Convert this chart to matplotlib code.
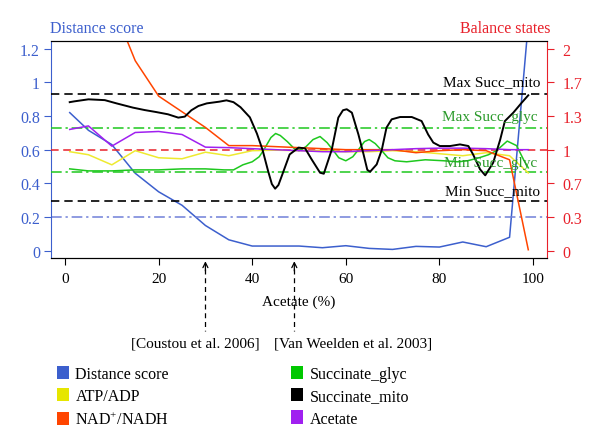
import matplotlib
matplotlib.use("Agg")
import matplotlib.pyplot as plt
from matplotlib.patches import Patch

plt.rcParams['font.family'] = ['Liberation Serif', 'DejaVu Serif']
plt.rcParams['font.size'] = 11
plt.rcParams['mathtext.fontset'] = 'custom'
plt.rcParams['mathtext.rm'] = 'Liberation Serif'

# acetate percentage grid of the coarse series
acetate_pct = [1, 5, 10, 15, 20, 25, 30, 35, 40, 45, 50, 55, 60, 65, 70, 75, 80, 85, 90, 95, 99]
distance_score = [0.82, 0.715, 0.63, 0.46, 0.35, 0.27, 0.15, 0.065, 0.028, 0.028, 0.028,
                  0.018, 0.03, 0.014, 0.008, 0.026, 0.022, 0.052, 0.024, 0.08, 1.35]
atp_adp = [0.98, 0.95, 0.85, 0.99, 0.92, 0.91, 0.975, 0.94, 0.99, 0.995, 0.99,
           0.99, 0.98, 0.98, 0.99, 0.98, 0.96, 0.94, 0.97, 0.94, 0.77]
nad_nadh = [3.6, 3.0, 2.45, 1.88, 1.53, 1.375, 1.22, 1.04, 1.04, 1.03, 1.02,
            1.01, 1.0, 1.0, 1.0, 0.97, 0.99, 1.0, 0.99, 0.90, 0.01]
acetate = [1.2, 1.235, 1.035, 1.17, 1.18, 1.15, 1.025, 1.02, 1.01, 1.0, 0.99,
           0.98, 0.98, 0.99, 1.0, 1.01, 1.015, 1.015, 1.01, 1.0, 1.0]

# succinate curves are smooth, so they were read at more points
succ_glyc_x = [1, 5, 10, 15, 20, 25, 30, 34, 36, 38, 40, 41.5, 42.5, 44, 45, 46, 47.5, 49,
               50, 51.5, 53, 54.5, 56, 57.2, 58.5, 60, 61.5, 62.7, 64, 65, 66.3, 67.7, 69,
               70.5, 73, 77, 81, 84, 86, 88.5, 90.5, 92.2, 94.5, 96.5, 98, 99]
succ_glyc = [0.81, 0.79, 0.79, 0.80, 0.80, 0.81, 0.81, 0.80, 0.80, 0.85, 0.88, 0.93, 1.0, 1.12,
             1.16, 1.14, 1.08, 1.01, 0.99, 1.03, 1.10, 1.13, 1.07, 1.0, 0.92, 0.89, 0.93,
             1.0, 1.08, 1.10, 1.06, 0.99, 0.92, 0.89, 0.88, 0.90, 0.89, 0.88, 0.89, 0.92,
             0.95, 0.99, 1.085, 1.04, 0.90, 0.82]
succ_mito_x = [1, 2, 5, 8.5, 11, 14.5, 17, 19.5, 22, 24.2, 25.6, 27, 28.5, 30.3, 33, 34.5,
               36, 37.5, 39.5, 41, 42.2, 43.4, 44.2, 44.9, 45.6, 46.4, 48, 49.9, 51.3, 52.7,
               54.5, 55.3, 57, 58.4, 59.4, 60.2, 61.3, 62.7, 63.8, 64.6, 65.2, 66.6, 67.7,
               68.7, 69.8, 71.6, 74.1, 76.2, 77.6, 78.7, 80.1, 82.3, 84.4, 86.2, 87.2, 88.7,
               89.8, 91.5, 93, 94, 95.8, 97.6, 99]
succ_mito = [1.47, 1.478, 1.498, 1.49, 1.458, 1.416, 1.392, 1.372, 1.35, 1.317, 1.327, 1.39,
             1.432, 1.458, 1.475, 1.488, 1.47, 1.42, 1.32, 1.16, 1.0, 0.788, 0.66, 0.614,
             0.65, 0.75, 0.953, 1.02, 1.013, 0.904, 0.772, 0.762, 1.0, 1.317, 1.39, 1.40,
             1.366, 1.15, 0.953, 0.80, 0.782, 0.854, 1.0, 1.218, 1.30, 1.323, 1.323, 1.283,
             1.15, 1.07, 1.036, 1.036, 1.052, 1.036, 0.953, 0.805, 0.746, 0.871, 1.10,
             1.283, 1.366, 1.465, 1.538]

# thresholds
max_succ_mito = 1.55
max_succ_glyc = 1.21
balance_level = 1.0
min_succ_glyc = 0.78
min_succ_mito = 0.49
distance_threshold = 0.2

right_ticks = [0, 1/3, 2/3, 1, 4/3, 5/3, 2]
right_ticklabels = ["0", "0.3", "0.7", "1", "1.3", "1.7", "2"]
citations = ["[Coustou et al. 2006]", "[Van Weelden et al. 2003]"]
citation_x = [30, 49]

BLUE = '#3c5fcd'
RED = '#e8202a'
GREEN = '#1ec81e'
YELLOW = '#eeea30'
ORANGE = '#ff4500'
PURPLE = '#a020f0'

fig = plt.figure(figsize=(6, 4.31), dpi=100)
ax = fig.add_axes([51/600, 1 - 259/431, (547 - 51)/600, (259 - 42)/431])
ax2 = ax.twinx()

ax.plot(acetate_pct, distance_score, color=BLUE, lw=1.1)
ax.axhline(distance_threshold, color='#7080d8', lw=1.1, dashes=(7, 2.5, 1.5, 2.5))

ax2.axhline(max_succ_mito, color='black', lw=1.2, dashes=(5, 3))
ax2.axhline(min_succ_mito, color='black', lw=1.2, dashes=(5, 3))
ax2.axhline(max_succ_glyc, color=GREEN, lw=1.1, dashes=(7, 2.5, 1.5, 2.5))
ax2.axhline(min_succ_glyc, color=GREEN, lw=1.1, dashes=(7, 2.5, 1.5, 2.5))
ax2.axhline(balance_level, color=RED, lw=1.1, dashes=(5, 3))

ax2.plot(acetate_pct, atp_adp, color=YELLOW, lw=1.1)
ax2.plot(succ_glyc_x, succ_glyc, color=GREEN, lw=1.1)
ax2.plot(acetate_pct, nad_nadh, color=ORANGE, lw=1.1)
ax2.plot(acetate_pct, acetate, color=PURPLE, lw=1.1)
ax2.plot(succ_mito_x, succ_mito, color='black', lw=1.4)

ax2.text(101.5, 1.675, "Max Succ_mito", ha='right', va='center', color='black')
ax2.text(101.0, 1.33, "Max Succ_glyc", ha='right', va='center', color='#2a9a2a')
ax2.text(101.0, 0.87, "Min Succ_glyc", ha='right', va='center', color='#2a9a2a')
ax2.text(101.5, 0.59, "Min Succ_mito", ha='right', va='center', color='black')

ax.set_xlim(-3, 103)
ax.set_ylim(-0.043, 1.245)
ax2.set_ylim(-0.043 * 5/3, 1.245 * 5/3)
ax.set_xticks([0, 20, 40, 60, 80, 100])
ax.set_yticks([0, 0.2, 0.4, 0.6, 0.8, 1.0, 1.2])
ax.set_yticklabels(["0", "0.2", "0.4", "0.6", "0.8", "1", "1.2"])
ax2.set_yticks(right_ticks)
ax2.set_yticklabels(right_ticklabels)

ax.tick_params(axis='x', length=5, pad=5, colors='black')
ax.tick_params(axis='y', length=5, pad=3, colors=BLUE, labelsize=11.5)
ax2.tick_params(axis='y', length=5, pad=6, colors=RED, labelsize=11.5)
ax.tick_params(axis='x', labelsize=11)
ax.spines['left'].set_color(BLUE)
ax.spines['right'].set_visible(False)
ax2.spines['left'].set_visible(False)
ax2.spines['right'].set_color(RED)
ax.set_xlabel("Acetate (%)", labelpad=7)

# literature references below the axis
trans = ax.get_xaxis_transform()
for cx in citation_x:
    ax.plot([cx, cx], [-0.05, -0.335], transform=trans, clip_on=False,
            color='black', lw=0.9, dashes=(4, 3))
    ax.annotate('', xy=(cx, -0.015), xytext=(cx, -0.06), xycoords=trans, textcoords=trans,
                arrowprops=dict(arrowstyle='->', lw=0.9, color='black',
                                shrinkA=0, shrinkB=0, mutation_scale=9))
ax.text(27.8, -0.39, citations[0], transform=trans, ha='center', va='center')
ax.text(61.5, -0.39, citations[1], transform=trans, ha='center', va='center')

fig.text(50/600, 1 - 29/431, "Distance score", color=BLUE, ha='left', va='center', fontsize=11.5)
fig.text(551/600, 1 - 29/431, "Balance states", color=RED, ha='right', va='center', fontsize=11.5)

legend_labels = ["Distance score", "ATP/ADP", "NAD$^{+}$/NADH",
                 "Succinate_glyc", "Succinate_mito", "Acetate"]
legend_colors = [BLUE, '#e6e600', ORANGE, '#00c800', 'black', PURPLE]
handles = [Patch(facecolor=c, edgecolor='none') for c in legend_colors]
fig.legend(handles, legend_labels, ncol=2, loc='upper left',
           bbox_to_anchor=(57/600, 1 - 367/431), frameon=False,
           borderpad=0, borderaxespad=0, handlelength=0.75, handleheight=0.9,
           handletextpad=0.4, labelspacing=0.38, columnspacing=7.65, fontsize=11.5)

fig.savefig("out.png", dpi=100)
